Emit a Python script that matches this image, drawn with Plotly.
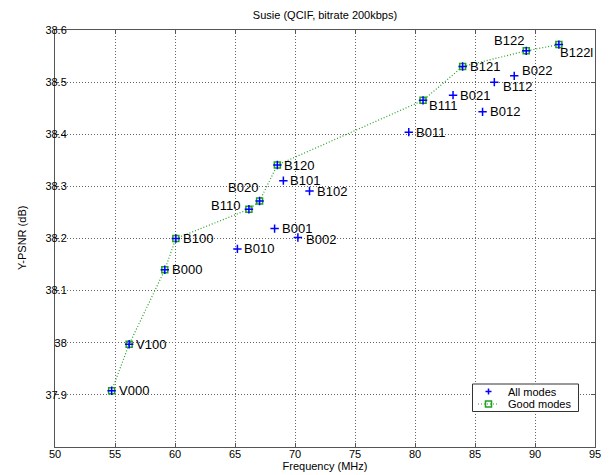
import plotly.graph_objects as go

# ---- data ----
mode_labels = ["V000", "V100", "B000", "B100", "B010", "B001", "B002", "B110", "B020",
               "B101", "B102", "B120", "B011", "B111", "B021", "B121", "B012", "B112",
               "B022", "B122", "B122l"]
freq_mhz = [54.72, 56.18, 59.15, 60.07, 65.20, 68.30, 70.24, 66.16, 67.05,
            69.03, 71.21, 68.53, 79.48, 80.67, 83.17, 83.97, 85.63, 86.61,
            88.27, 89.27, 91.99]
psnr_db = [37.908, 37.997, 38.140, 38.200, 38.180, 38.219, 38.202, 38.256, 38.272,
           38.311, 38.291, 38.341, 38.404, 38.465, 38.475, 38.530, 38.443, 38.500,
           38.512, 38.560, 38.572]
good_modes = ["V000", "V100", "B000", "B100", "B110", "B020", "B120", "B111",
              "B121", "B122", "B122l"]
series_names = ["All modes", "Good modes"]
x_ticks = [50, 55, 60, 65, 70, 75, 80, 85, 90, 95]
y_ticks = [37.9, 38.0, 38.1, 38.2, 38.3, 38.4, 38.5, 38.6]
y_tick_text = ["37.9", "38", "38.1", "38.2", "38.3", "38.4", "38.5", "38.6"]

lookup = {m: (f, p) for m, f, p in zip(mode_labels, freq_mhz, psnr_db)}
good_x = [lookup[m][0] for m in good_modes]
good_y = [lookup[m][1] for m in good_modes]

FONT = "Arial, Liberation Sans, sans-serif"
GREEN = "#22a022"
BLUE = "#0000ff"
OFF = 8  # page body margin of the browser
W, H = 613 - OFF, 475 - OFF
ML, MR, MT, MB = 55 - OFF, 18, 30 - OFF, 28

fig = go.Figure()
fig.add_trace(go.Scatter(
    x=good_x, y=good_y, mode="lines+markers", name=series_names[1],
    line=dict(color=GREEN, width=1.2, dash="1px,2px"),
    marker=dict(symbol="square-open", size=6, color=GREEN, line=dict(width=1.5)),
    showlegend=False,
))
fig.add_trace(go.Scatter(
    x=freq_mhz, y=psnr_db, mode="markers", name=series_names[0],
    marker=dict(symbol="cross-thin", size=6, color=BLUE, line=dict(color=BLUE, width=1.5)),
    showlegend=False,
))

# label placement (xanchor, xshift, yshift)
placement = {
    "B110": ("right", -7, 4),
    "B020": ("right", 0, 13),
    "B122": ("right", 0, 10),
    "B122l": ("left", -1, -8),
    "B111": ("left", 4, -5),
    "B112": ("left", 7, -4),
    "B022": ("left", 6, 5),
    "B002": ("left", 6, -2),
}
for m, f, p in zip(mode_labels, freq_mhz, psnr_db):
    xa, xs, ys = placement.get(m, ("left", 5, 0))
    fig.add_annotation(x=f, y=p, text=m, showarrow=False, xanchor=xa, yanchor="middle",
                       xshift=xs, yshift=ys, font=dict(family=FONT, size=13, color="black"))

# ---- custom legend (reference page pixels converted to paper coords) ----
pw, ph = W - ML - MR, H - MT - MB
def px(x):
    return (x - OFF - ML) / pw
def py(y):
    return (H - MB - (y - OFF)) / ph

fig.add_shape(type="rect", xref="paper", yref="paper", x0=px(472.5), x1=px(578.5),
              y0=py(411.5), y1=py(384), line=dict(color="#333", width=1), fillcolor="white",
              layer="above")
r1, r2 = 391.5, 404
sym_x = 488.5
fig.add_shape(type="line", xref="paper", yref="paper", xsizemode="pixel", ysizemode="pixel",
              xanchor=px(sym_x), yanchor=py(r1), x0=-3, x1=3, y0=0, y1=0,
              line=dict(color=BLUE, width=1.5), layer="above")
fig.add_shape(type="line", xref="paper", yref="paper", xsizemode="pixel", ysizemode="pixel",
              xanchor=px(sym_x), yanchor=py(r1), x0=0, x1=0, y0=-3, y1=3,
              line=dict(color=BLUE, width=1.5), layer="above")
fig.add_shape(type="line", xref="paper", yref="paper", x0=px(478), x1=px(499),
              y0=py(r2), y1=py(r2), line=dict(color=GREEN, width=1.2, dash="1px,2px"),
              layer="above")
fig.add_shape(type="rect", xref="paper", yref="paper", xsizemode="pixel", ysizemode="pixel",
              xanchor=px(sym_x), yanchor=py(r2), x0=-3, x1=3, y0=-3, y1=3,
              line=dict(color=GREEN, width=1.5), fillcolor="rgba(0,0,0,0)", layer="above")
for name, ry in zip(series_names, [r1, r2]):
    fig.add_annotation(xref="paper", yref="paper", x=px(506), y=py(ry), text=name,
                       showarrow=False, xanchor="left", yanchor="middle",
                       font=dict(family=FONT, size=11, color="black"))

# y-axis title placed as rotated text
fig.add_annotation(xref="paper", yref="paper", x=px(21.5), y=0.5, text="Y-PSNR (dB)",
                   textangle=-90, showarrow=False, xanchor="center", yanchor="middle",
                   font=dict(family=FONT, size=11, color="black"))

axis_common = dict(
    showline=True, linecolor="#555", linewidth=1, mirror="ticks",
    ticks="inside", ticklen=4, tickcolor="#555",
    showgrid=True, gridcolor="#666", griddash="1px,2px", gridwidth=1,
    zeroline=False, tickfont=dict(family=FONT, size=11, color="black"),
    automargin=False,
)
fig.update_xaxes(range=[50, 95], tickvals=x_ticks, ticklabelstandoff=-3,
                 title=dict(text="Frequency (MHz)", font=dict(family=FONT, size=11, color="black"), standoff=0),
                 **axis_common)
fig.update_yaxes(range=[37.8, 38.6], tickvals=y_ticks, ticktext=y_tick_text,
                 ticklabelstandoff=-15, **axis_common)

fig.update_layout(
    width=W, height=H,
    margin=dict(l=ML, r=MR, t=MT, b=MB, autoexpand=False),
    paper_bgcolor="white", plot_bgcolor="white",
    title=dict(text="Susie (QCIF, bitrate 200kbps)", x=0.5, xref="paper", y=1, yref="container",
               yanchor="top", pad=dict(t=3),
               font=dict(family=FONT, size=11, color="black")),
    showlegend=False,
    font=dict(family=FONT),
)

fig.write_html("out.html")
